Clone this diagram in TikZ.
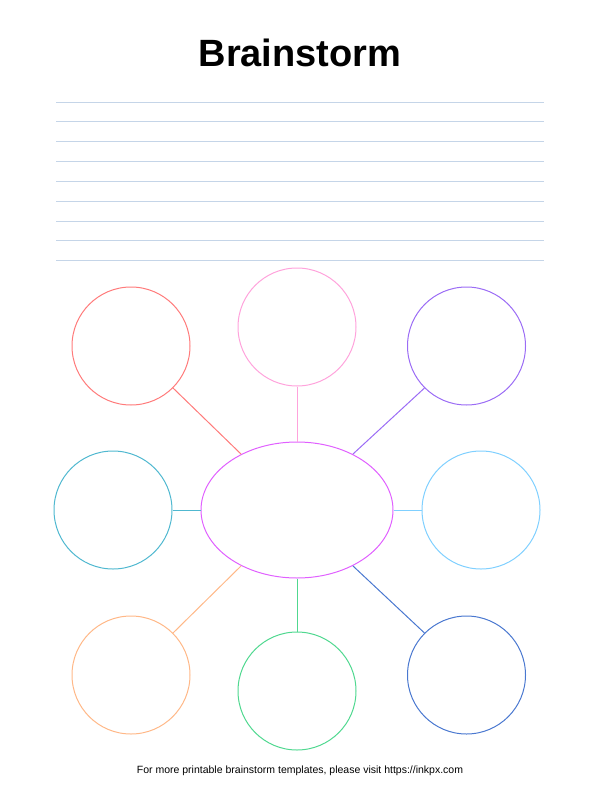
\documentclass[tikz,border=0pt]{standalone}
\usepackage{fontspec}
\setmainfont{Liberation Sans}
\usetikzlibrary{shapes.geometric}
\definecolor{cRed}{HTML}{FF7B7B}
\definecolor{cPink}{HTML}{FFA3DC}
\definecolor{cPurple}{HTML}{9B6CF5}
\definecolor{cMag}{HTML}{E060FF}
\definecolor{cTeal}{HTML}{50B8D0}
\definecolor{cSky}{HTML}{80D0FF}
\definecolor{cOrange}{HTML}{FFB888}
\definecolor{cGreen}{HTML}{50D890}
\definecolor{cBlue}{HTML}{4A78D0}
\definecolor{cRule}{HTML}{C5D5E8}
\begin{document}
\begin{tikzpicture}[x=1pt,y=-1pt,
  bubble/.style={circle,draw,line width=1pt,minimum size=118pt,inner sep=0pt},
  link/.style={line width=1pt},
  rule/.style={cRule,line width=1pt}]
\useasboundingbox (0,0) rectangle (600,800);
\node (title) at (300,53) {\fontsize{38}{42}\selectfont\bfseries Brainstorm};
\foreach \i in {0,...,8} {
  \draw[rule] (56,{102+\i*19.85}) -- (544,{102+\i*19.85});
}
\node[ellipse,draw=cMag,line width=1pt,minimum width=192pt,minimum height=136pt,inner sep=0pt] (c) at (297,510) {};
\node[bubble,draw=cRed] (r) at (131,346) {};
\node[bubble,draw=cPink] (p) at (297,327) {};
\node[bubble,draw=cPurple] (v) at (466.5,346) {};
\node[bubble,draw=cTeal] (t) at (113,510) {};
\node[bubble,draw=cSky] (s) at (481,510) {};
\node[bubble,draw=cOrange] (o) at (131,675) {};
\node[bubble,draw=cGreen] (g) at (297,691) {};
\node[bubble,draw=cBlue] (b) at (466.5,675) {};
\draw[link,cRed] (r.-45) -- (c.135);
\draw[link,cPink] (p.south) -- (c.north);
\draw[link,cPurple] (v.-135) -- (c.45);
\draw[link,cTeal] (t.east) -- (c.west);
\draw[link,cSky] (s.west) -- (c.east);
\draw[link,cOrange] (o.45) -- (c.-135);
\draw[link,cGreen] (g.north) -- (c.south);
\draw[link,cBlue] (b.135) -- (c.-45);
\node (foot) at (300,771) {\fontsize{10.5}{12}\selectfont For more printable brainstorm templates, please visit https://inkpx.com};
\end{tikzpicture}
\end{document}
